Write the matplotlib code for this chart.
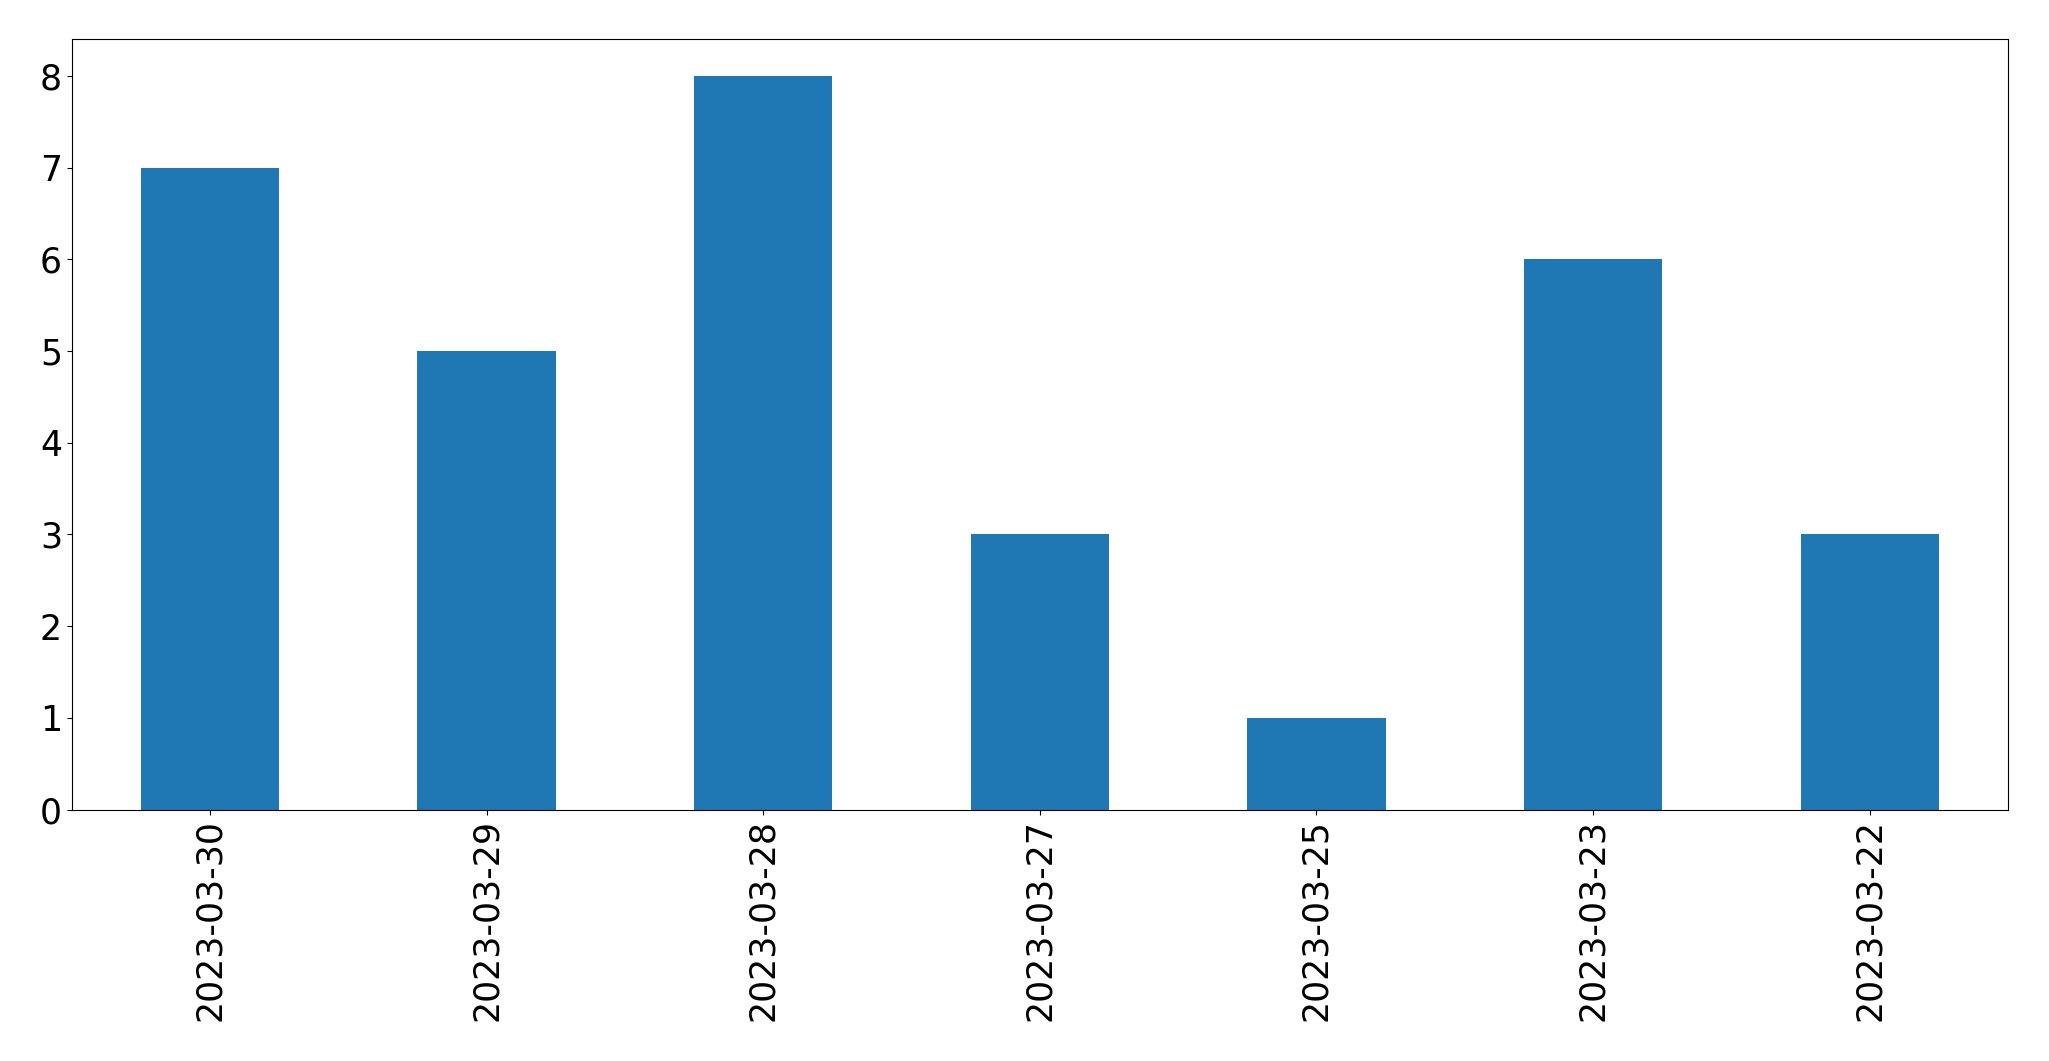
import matplotlib
matplotlib.use("Agg")
import matplotlib.pyplot as plt
import pandas as pd

dates = ["2023-03-30", "2023-03-29", "2023-03-28", "2023-03-27",
         "2023-03-25", "2023-03-23", "2023-03-22"]
counts = [7, 5, 8, 3, 1, 6, 3]

s = pd.Series(counts, index=dates)

fig, ax = plt.subplots(figsize=(20.49, 10.61), dpi=100)
s.plot(kind="bar", ax=ax, color="#1f77b4")
ax.tick_params(axis="both", labelsize=25)
plt.subplots_adjust(left=0.035, right=0.98, top=0.963, bottom=0.237)
fig.savefig("out.png", dpi=100)
